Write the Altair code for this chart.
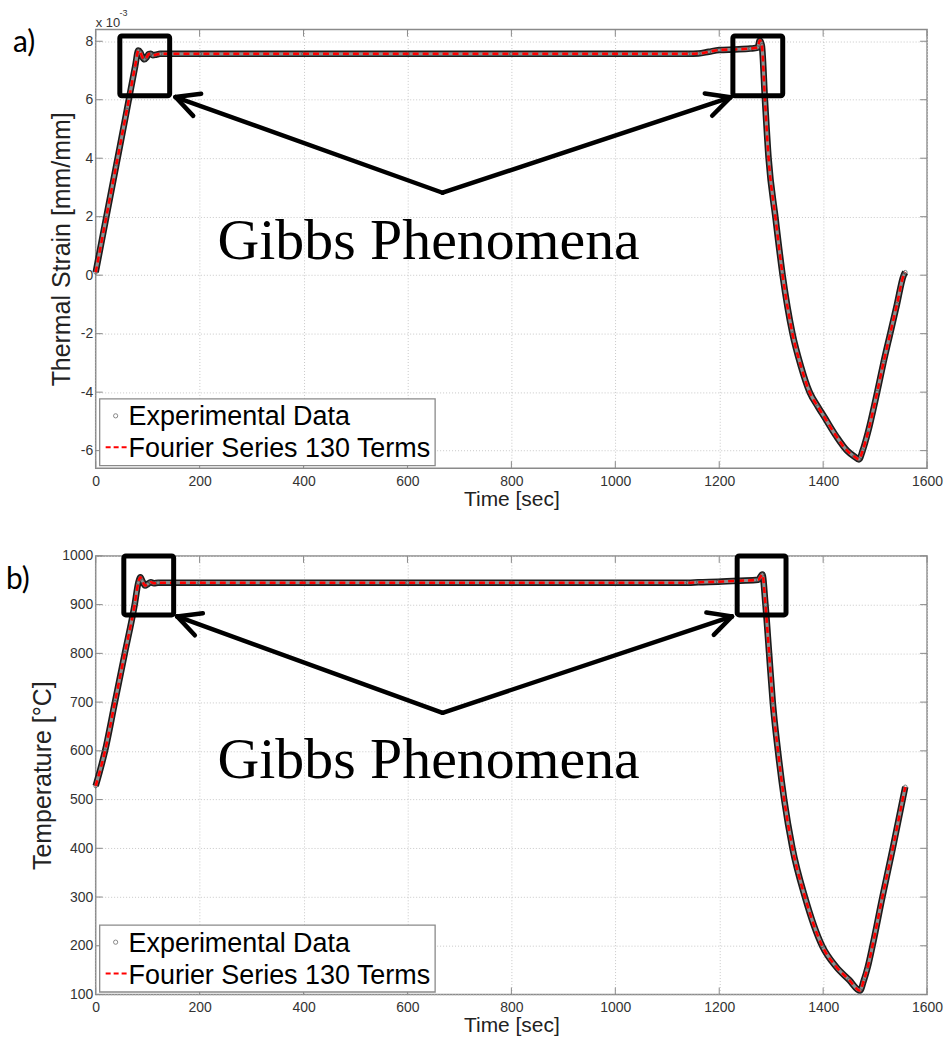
import math
import altair as alt
import pandas as pd

# ---------------- data ----------------
strain_time = [0, 20, 40, 60, 76, 82, 86, 90, 94, 98, 102, 106, 110, 116, 124, 200, 400, 600,
               800, 1000, 1140, 1160, 1180, 1200, 1230, 1260, 1274, 1278, 1282, 1288, 1295,
               1308, 1322, 1341, 1357, 1374, 1390, 1403, 1425, 1446, 1460, 1469, 1476,
               1486, 1504, 1516, 1529, 1542, 1555, 1558]
strain_vals = [0.1, 1.95, 3.8, 5.65, 7.15, 7.68, 7.62, 7.45, 7.38, 7.45, 7.56, 7.57, 7.52, 7.54,
               7.57, 7.57, 7.57, 7.57, 7.57, 7.57, 7.57, 7.58, 7.64, 7.70, 7.72, 7.75, 7.78,
               8.03, 7.86, 6.0, 4.0, 2.0, 0.0, -2.0, -3.1, -4.0, -4.5, -4.87, -5.5, -6.0,
               -6.2, -6.3, -6.0, -5.39, -4.0, -3.0, -2.0, -1.0, 0.0, 0.1]

temp_time = [0, 18, 37, 56, 75, 82, 86, 90, 95, 100, 106, 112, 120, 200, 400, 600, 800, 1000,
             1140, 1160, 1198, 1240, 1275, 1283, 1289, 1296, 1303, 1313, 1325, 1341, 1365,
             1398, 1425, 1450, 1471, 1478, 1486, 1495, 1514, 1534, 1553, 1558]
temp_vals = [528, 600, 700, 800, 900, 945, 956, 948, 939, 942, 946, 944, 945, 945, 945, 945, 945,
             945, 945, 946, 947, 949, 951, 962, 900, 800, 700, 600, 500, 400, 300, 200, 157,
             130, 108, 128, 157, 200, 300, 400, 500, 526]

x_ticks = [0, 200, 400, 600, 800, 1000, 1200, 1400, 1600]
strain_ticks = [-6, -4, -2, 0, 2, 4, 6, 8]
temp_ticks = [100, 200, 300, 400, 500, 600, 700, 800, 900, 1000]
legend_labels = ["Experimental Data", "Fourier Series 130 Terms"]
note_text = "Gibbs Phenomena"

W, H = 834, 440
GRID = "#c8c8c8"
FRAME = "#8a8a8a"


def val(v):
    return alt.value(v)


def one():
    return alt.Chart(pd.DataFrame({"k": [0]}))


def panel(times, vals, yticks, ydomain, ytitle, letter, letter_xy, boxes, apex, tips,
          note_y, exponent):
    df = pd.DataFrame({"t": times, "v": vals})
    X = alt.X("t:Q", scale=alt.Scale(domain=[0, 1600], nice=False, zero=False),
              axis=alt.Axis(values=x_ticks, title="Time [sec]", labelPadding=6,
                            titlePadding=0, labelFlush=False,
                            labelExpr="'' + datum.value"))
    Y = alt.Y("v:Q", scale=alt.Scale(domain=ydomain, nice=False, zero=False),
              axis=alt.Axis(values=yticks, title=ytitle, labelExpr="'' + datum.value",
                            labelPadding=3, titlePadding=6, labelFlush=False))
    layers = []
    # data
    layers.append(alt.Chart(df).mark_line(color="#1c1c1c", strokeWidth=6.5, interpolate="monotone",
                                          strokeJoin="round").encode(x=X, y=Y))
    layers.append(alt.Chart(df).mark_line(color="#8e8e8e", strokeWidth=3.2, interpolate="monotone",
                                          strokeJoin="round").encode(x=X, y=Y))
    layers.append(alt.Chart(df).mark_point(shape="circle", filled=False, color="#444",
                                           size=14, strokeWidth=1).encode(x=X, y=Y))
    layers.append(alt.Chart(df).mark_line(color="#ff0000", strokeWidth=2.6, interpolate="monotone",
                                          strokeDash=[6, 4]).encode(x=X, y=Y))
    # inward tick marks (MATLAB style)
    xt = pd.DataFrame({"t": x_ticks})
    yt = pd.DataFrame({"v": yticks})
    layers.append(alt.Chart(xt).mark_rule(color=FRAME).encode(x=X, y=val(H), y2=val(H - 7)))
    layers.append(alt.Chart(xt).mark_rule(color=FRAME).encode(x=X, y=val(0), y2=val(7)))
    layers.append(alt.Chart(yt).mark_rule(color=FRAME).encode(y=Y, x=val(0), x2=val(7)))
    layers.append(alt.Chart(yt).mark_rule(color=FRAME).encode(y=Y, x=val(W), x2=val(W - 7)))
    # boxes around the Gibbs overshoots
    for (x1, x2, y1, y2) in boxes:
        layers.append(one().mark_rect(fillOpacity=0, stroke="black", strokeWidth=5,
                                      cornerRadius=2)
                      .encode(x=val(x1), x2=val(x2), y=val(y1), y2=val(y2)))
    # arrows
    ax, ay = apex
    for (tx, ty) in tips:
        segs = [(ax, ay, tx, ty)]
        dx, dy = ax - tx, ay - ty
        n = math.hypot(dx, dy)
        ux, uy = dx / n, dy / n
        for s in (1, -1):
            th = math.radians(27) * s
            rx = ux * math.cos(th) - uy * math.sin(th)
            ry = ux * math.sin(th) + uy * math.cos(th)
            segs.append((tx, ty, tx + 26 * rx, ty + 26 * ry))
        for (a1, b1, a2, b2) in segs:
            layers.append(one().mark_rule(color="black", strokeWidth=4.5, strokeCap="round")
                          .encode(x=val(a1), y=val(b1), x2=val(a2), y2=val(b2)))
    # big note
    layers.append(one().mark_text(text=note_text, font="Liberation Serif", fontSize=58,
                                  align="center", baseline="alphabetic", color="black")
                  .encode(x=val(334), y=val(note_y)))
    # legend
    layers.append(one().mark_rect(fill="white", stroke=FRAME, strokeWidth=1.3)
                  .encode(x=val(4), x2=val(340.5), y=val(370.5), y2=val(437.5)))
    layers.append(one().mark_point(shape="circle", filled=False, color="#555", size=18,
                                   strokeWidth=1).encode(x=val(20), y=val(387.5)))
    layers.append(one().mark_rule(color="#ff0000", strokeWidth=2, strokeDash=[5, 3])
                  .encode(x=val(10), x2=val(32), y=val(419), y2=val(419)))
    for i, lab in enumerate(legend_labels):
        layers.append(one().mark_text(text=lab, font="Liberation Sans", fontSize=27,
                                      align="left", baseline="alphabetic", color="black")
                      .encode(x=val(33), y=val(397 + 32 * i)))
    # panel letter
    layers.append(one().mark_text(text=letter, font="Lato", fontSize=30, align="left",
                                  baseline="alphabetic", color="black")
                  .encode(x=val(letter_xy[0]), y=val(letter_xy[1])))
    if exponent:
        layers.append(one().mark_text(text="x 10", font="Liberation Sans", fontSize=13,
                                      align="left", baseline="alphabetic", color="#333")
                      .encode(x=val(0), y=val(-3)))
        layers.append(one().mark_text(text="-3", font="Liberation Sans", fontSize=9,
                                      align="left", baseline="alphabetic", color="#333")
                      .encode(x=val(24), y=val(-14)))
    return alt.layer(*layers).properties(width=W, height=H)


top = panel(strain_time, strain_vals, strain_ticks, [-6.6, 8.4], "Thermal Strain [mm/mm]",
            "a)", (-83, 23),
            [(24.2, 74.2, 6.5, 66.5), (639.2, 689.2, 6.5, 66.5)],
            (348, 163.7), [(80, 67.7), (636.7, 68)], 229.7, True)
bottom = panel(temp_time, temp_vals, temp_ticks, [100, 1000], "Temperature [°C]",
               "b)", (-90, 33),
               [(28.2, 78.2, 0, 59.2), (643.5, 692.5, 0, 59.2)],
               (348, 157.4), [(81.7, 60.7), (638.3, 60.7)], 222.4, False)

chart = alt.vconcat(top, bottom, spacing=38).properties(
    padding={"left": 5, "top": 6, "right": 5, "bottom": 5}
).configure_view(stroke=FRAME, strokeWidth=1.5).configure_axis(
    grid=True, gridColor=GRID, gridDash=[1, 2], gridWidth=1, domain=False, ticks=False,
    labelFont="Liberation Sans", labelFontSize=14, labelColor="#333",
    titleFont="Liberation Sans", titleFontWeight="normal", titleColor="#222"
).configure_axisX(titleFontSize=21).configure_axisY(titleFontSize=25)

chart.save("out.html", embed_options={"renderer": "svg", "actions": False})
